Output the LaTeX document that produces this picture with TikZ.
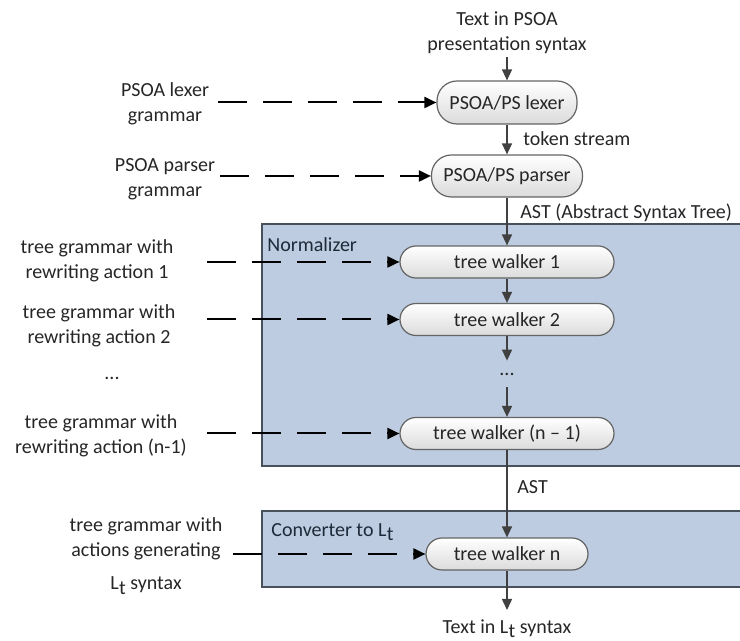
\documentclass[tikz,border=0pt]{standalone}
\usepackage{fontspec}
\setmainfont{Carlito}
\usetikzlibrary{arrows.meta}
\definecolor{panelblue}{RGB}{189,204,224}
\definecolor{panelline}{RGB}{72,80,92}
\definecolor{ink}{RGB}{38,38,38}
\definecolor{panelink}{RGB}{30,42,58}
\definecolor{wire}{RGB}{64,64,64}
\definecolor{boxline}{RGB}{100,100,100}
% L with a lowered t
\newcommand\Lsub{L\kern0.02em\raisebox{-0.5ex}{t}}
\begin{document}
\begin{tikzpicture}[x=0.5pt,y=-0.5pt,
  font=\fontsize{10}{12.5}\selectfont, text=ink,
  panel/.style={draw=panelline, line width=1pt, fill=panelblue},
  stage/.style={draw=boxline, line width=0.6pt, top color=white, bottom color=black!14,
    rounded corners=8pt, inner sep=0pt, align=center},
  flow/.style={draw=wire, line width=0.75pt, -{Triangle[length=5.5pt,width=5pt]}},
  feed/.style={draw=black, line width=1pt, dash pattern=on 14.5pt off 8pt,
    -{Triangle[length=6pt,width=5.5pt]}},
  lbl/.style={align=center, inner sep=0pt},
  tag/.style={anchor=west, inner sep=0pt},
]
\useasboundingbox (0,0) rectangle (740,641);
\clip (0,0) rectangle (740,641);

% panels
\path[panel] (262,224) rectangle (760,466);
\path[panel] (262,511) rectangle (760,587);
\node[tag, text=panelink] (normlbl) at (267,245) {Normalizer};
\node[tag, text=panelink] (convlbl) at (271,532) {Converter to \Lsub};

% processing stages
\node[lbl, anchor=south, inner ysep=1.5pt] (src) at (507,57) {Text in PSOA\\presentation syntax};
\node[stage, minimum width=70pt, minimum height=21.5pt, rounded corners=10pt] (lex) at (507,102.5) {PSOA/PS lexer};
\node[stage, minimum width=75.5pt, minimum height=21pt, rounded corners=10pt] (par) at (507,176) {PSOA/PS parser};
\node[stage, minimum width=107pt, minimum height=16pt] (tw1) at (507,262) {tree walker 1};
\node[stage, minimum width=107pt, minimum height=16pt] (tw2) at (507,319.5) {tree walker 2};
\node[inner sep=0pt, minimum height=13pt] (dots) at (507,374) {...};
\node[stage, minimum width=107pt, minimum height=16pt] (twm) at (507,433.5) {tree walker (n -- 1)};
\node[stage, minimum width=81pt, minimum height=16pt] (twn) at (507,554) {tree walker n};
\node[anchor=north, inner ysep=4.5pt, inner xsep=0pt] (out) at (507,610) {Text in \Lsub\ syntax};

% main flow
\draw[flow] (src) -- (lex);
\draw[flow] (lex) -- (par);
\draw[flow] (par) -- (tw1);
\draw[flow] (tw1) -- (tw2);
\draw[flow] (tw2) -- (dots);
\draw[flow] (dots) -- (twm);
\draw[flow] (twm) -- (twn);
\draw[flow] (twn) -- (out);
\node[tag] (tok) at (523,139) {token stream};
\node[tag] (ast1) at (520,213) {AST (Abstract Syntax Tree)};
\node[tag] (ast2) at (517,487) {AST};

% grammar inputs
\node[lbl] (lexg) at (165,104) {PSOA lexer\\grammar};
\node[lbl] (parg) at (165,179) {PSOA parser\\grammar};
\node[lbl] (g1) at (97,261) {tree grammar with\\rewriting action 1};
\node[lbl] (g2) at (99,326) {tree grammar with\\rewriting action 2};
\node[lbl] (gdots) at (112,378) {...};
\node[lbl] (gm) at (101,436) {tree grammar with\\rewriting action (n-1)};
\node[lbl] (gn) at (146,556) {tree grammar with\\actions generating\\[4pt]\Lsub\ syntax};

\coordinate (f0) at (218,102.5);
\coordinate (f1) at (220,176);
\coordinate (f2) at (207,262);
\coordinate (f3) at (207,319.5);
\coordinate (f4) at (207,433.5);
\coordinate (f5) at (233,554);
\draw[feed] (f0) -- (lex.west);
\draw[feed] (f1) -- (par.west);
\draw[feed] (f2) -- (tw1.west);
\draw[feed] (f3) -- (tw2.west);
\draw[feed] (f4) -- (twm.west);
\draw[feed] (f5) -- (twn.west);
\end{tikzpicture}
\end{document}
